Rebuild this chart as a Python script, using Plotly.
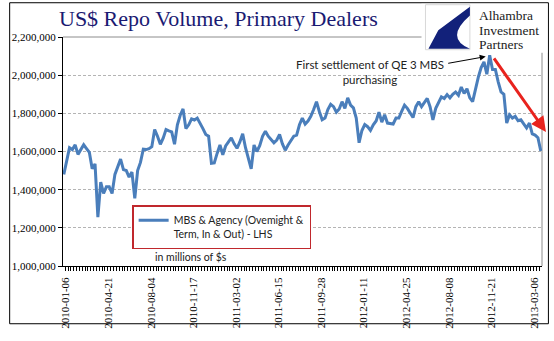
import pandas as pd
import plotly.graph_objects as go

# Weekly repo volume, primary dealers (millions of $), starting 2010-01-06
start_date = "2010-01-06"
volume = [
    1480000, 1560000, 1620000, 1610000, 1635000, 1585000, 1610000, 1635000, 1615000, 1595000,
    1510000, 1535000, 1256000, 1440000, 1380000, 1415000, 1415000, 1380000, 1480000, 1520000,
    1560000, 1505000, 1500000, 1466000, 1492000, 1355000, 1500000, 1543000, 1612000, 1610000,
    1615000, 1625000, 1715000, 1680000, 1638000, 1670000, 1715000, 1708000, 1703000, 1638000,
    1740000, 1790000, 1823000, 1720000, 1740000, 1771000, 1765000, 1775000, 1750000, 1720000,
    1689000, 1680000, 1538000, 1540000, 1590000, 1634000, 1583000, 1629000, 1650000, 1672000,
    1640000, 1617000, 1650000, 1693000, 1620000, 1560000, 1509000, 1634000, 1600000, 1630000,
    1680000, 1706000, 1680000, 1663000, 1646000, 1660000, 1689000, 1640000, 1607000, 1634000,
    1660000, 1680000, 1686000, 1740000, 1775000, 1744000, 1760000, 1784000, 1820000, 1861000,
    1810000, 1766000, 1775000, 1820000, 1847000, 1835000, 1806000, 1823000, 1861000, 1826000,
    1881000, 1843000, 1829000, 1775000, 1646000, 1710000, 1741000, 1730000, 1710000, 1740000,
    1760000, 1806000, 1754000, 1792000, 1749000, 1746000, 1744000, 1775000, 1775000, 1810000,
    1843000, 1826000, 1800000, 1778000, 1835000, 1861000, 1835000, 1860000, 1878000, 1835000,
    1766000, 1826000, 1860000, 1886000, 1878000, 1898000, 1881000, 1900000, 1912000, 1895000,
    1938000, 1904000, 1929000, 1881000, 1861000, 1930000, 1990000, 2040000, 2070000, 2005000,
    2104000, 2030000, 2030000, 1965000, 1912000, 1900000, 1749000, 1792000, 1775000, 1784000,
    1761000, 1766000, 1744000, 1723000, 1749000, 1692000, 1686000, 1672000, 1603000,
]
dates = pd.date_range(start_date, periods=len(volume), freq="7D")

tick_dates = [
    "2010-01-06", "2010-04-21", "2010-08-04", "2010-11-17", "2011-03-02", "2011-06-15",
    "2011-09-28", "2012-01-11", "2012-04-25", "2012-08-08", "2012-11-21", "2013-03-06",
]
y_ticks = [1000000, 1200000, 1400000, 1600000, 1800000, 2000000, 2200000]

series_name = "MBS & Agency (Ovemight &<br>Term, In & Out) - LHS"
logo_lines = ["Alhambra", "Investment", "Partners"]

W, H = 554, 341
L, R, T, B = 57, 12, 37, 70
PW, PH = W - L - R, H - T - B


def px(x):
    return (x - L) / PW


def py(y):
    return (H - B - y) / PH


SERIF = "Liberation Serif"
SANS = "Lato"

fig = go.Figure()
fig.add_trace(go.Scatter(
    x=dates, y=volume, mode="lines", name=series_name,
    line=dict(color="#4a7ebb", width=3),
))

shapes = [
    # outer frame
    dict(type="rect", xref="paper", yref="paper", x0=px(3), x1=px(548.5), y0=py(330), y1=py(2),
         line=dict(color="black", width=1), fillcolor="rgba(0,0,0,0)", layer="below"),
    # plot area top and right border
    dict(type="line", xref="paper", yref="paper", x0=0, x1=1, y0=1, y1=1,
         line=dict(color="#8c8c8c", width=1), layer="below"),
    dict(type="line", xref="paper", yref="paper", x0=1, x1=1, y0=0, y1=1,
         line=dict(color="#8c8c8c", width=1), layer="below"),
    # logo backdrop
    dict(type="rect", xref="paper", yref="paper", x0=px(420), x1=px(547.5), y0=py(53), y1=py(3),
         line=dict(width=0), fillcolor="white", layer="above"),
    dict(type="rect", xref="paper", yref="paper", x0=px(424), x1=px(469), y0=py(50), y1=py(4),
         line=dict(color="#d8d8d8", width=1), fillcolor="white", layer="above"),
]
swoosh = "M {},{} L {},{} L {},{} L {},{} Q {},{} {},{} Z".format(
    px(469), py(6), px(437), py(30), px(427), py(49), px(469), py(49),
    px(443), py(38), px(469), py(15),
)
shapes.append(dict(type="path", xref="paper", yref="paper", path=swoosh,
                   fillcolor="#12217a", line=dict(width=0), layer="above"))

annotations = [
    dict(text="US$ Repo Volume, Primary Dealers", xref="paper", yref="paper",
         x=px(51), y=py(18), xanchor="left", yanchor="middle", showarrow=False,
         font=dict(family=SERIF, size=22, color="#1a1a72")),
    dict(text="First settlement of QE 3 MBS<br>purchasing", xref="paper", yref="paper",
         x=px(368), y=py(73), xanchor="center", yanchor="middle", align="center",
         showarrow=False, font=dict(family=SANS, size=11.5, color="#222222")),
    # pointer to the settlement peak
    dict(text="", xref="paper", yref="paper", x=px(485), y=py(57),
         ax=-39, ay=7, showarrow=True, arrowhead=2, arrowsize=1.2, arrowwidth=1,
         arrowcolor="black"),
    # red downtrend arrow
    dict(text="", xref="paper", yref="paper", x=px(546), y=py(134),
         ax=-53, ay=-75, showarrow=True, arrowhead=2, arrowsize=1, arrowwidth=3,
         arrowcolor="#e8231e"),
    dict(text="in millions of $s", xref="paper", yref="paper", x=px(187), y=py(262),
         xanchor="center", yanchor="middle", showarrow=False,
         font=dict(family=SANS, size=10.5, color="#222222")),
]
# logo wordmark, one line per annotation
for line_text, cy in zip(logo_lines, [15, 30, 45]):
    annotations.append(dict(
        text=line_text, xref="paper", yref="paper", x=px(476), y=py(cy),
        xanchor="left", yanchor="middle", showarrow=False,
        font=dict(family=SERIF, size=13.5, color="#222222"),
    ))

fig.update_layout(
    width=W, height=H,
    margin=dict(l=L, r=R, t=T, b=B, pad=0),
    paper_bgcolor="white", plot_bgcolor="white",
    showlegend=True,
    legend=dict(
        x=px(127), y=py(209), xanchor="left", yanchor="top",
        bgcolor="white", bordercolor="#c0282d", borderwidth=1.5,
        font=dict(family=SANS, size=10.5, color="#222222"),
        itemwidth=30, valign="top",
    ),
    shapes=shapes,
    annotations=annotations,
    xaxis=dict(
        type="date",
        range=["2010-01-04", "2013-03-30"],
        tickvals=tick_dates, ticktext=tick_dates,
        tickangle=-90, ticks="",
        tickfont=dict(family=SERIF, size=11, color="black"),
        showgrid=False, zeroline=False,
        showline=True, linecolor="black", linewidth=1,
        ticklabelshift=2, ticklabelstandoff=6,
        minor=dict(ticks="outside", ticklen=4, tickcolor="black", tickwidth=1,
                   dtick=7 * 86400000, tick0="2010-01-02 12:00", showgrid=False),
    ),
    yaxis=dict(
        range=[1000000, 2200000],
        tickvals=y_ticks, tickformat=",d",
        ticks="outside", ticklen=4, tickcolor="black",
        tickfont=dict(family=SERIF, size=11, color="black"),
        showgrid=True, gridcolor="#b4b4b4", griddash="3px,2px", gridwidth=1,
        zeroline=False, showline=True, linecolor="black", linewidth=1,
    ),
)

fig.write_html("out.html")
